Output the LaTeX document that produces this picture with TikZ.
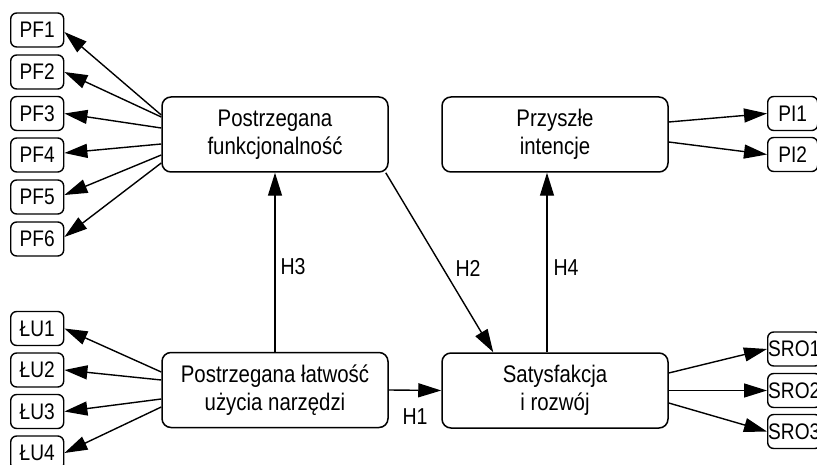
\documentclass[tikz,border=0pt]{standalone}
\usepackage{fontspec}
\setmainfont{Liberation Sans}[FakeStretch=0.85]
\usetikzlibrary{arrows.meta,calc}
\begin{document}
\begin{tikzpicture}[x=1pt,y=-1pt,
  construct/.style={draw, rounded corners=9pt, line width=1.5pt,
    minimum width=226pt, minimum height=75pt, align=center, inner sep=0pt,
    font=\fontsize{24}{27.5}\selectfont},
  item/.style={draw, rounded corners=6pt, line width=1.4pt,
    minimum width=53pt, minimum height=34pt, inner xsep=1.5pt, inner ysep=0pt,
    font=\fontsize{22.5}{25}\selectfont},
  link/.style={line width=1.4pt, -{Triangle[length=23pt,width=14pt]}},
  hyp/.style={font=\fontsize{23}{25}\selectfont, inner sep=0pt}
]
\useasboundingbox (0,0) rectangle (817,465);

% latent constructs
\node[construct] (funk) at (275,134.5) {Postrzegana\\funkcjonalność};
\node[construct] (latw) at (275,390) {Postrzegana łatwość\\użycia narzędzi};
\node[construct] (sat)  at (555,390.5) {Satysfakcja\\i rozwój};
\node[construct] (przy) at (555,134.5) {Przyszłe\\intencje};

% indicators
\foreach \i/\y in {1/30,2/72,3/113.5,4/155,5/197,6/239}
  \node[item, anchor=west] (pf\i) at (10,\y) {PF\i};
\foreach \i/\y in {1/328.5,2/370,3/411.5,4/453}
  \node[item, anchor=west] (lu\i) at (10,\y) {ŁU\i};
\foreach \i/\y in {1/113.5,2/154.5}
  \node[item, anchor=west, minimum width=50pt] (pi\i) at (767,\y) {PI\i};
\foreach \i/\y in {1/349,2/390.5,3/431.5}
  \node[item, anchor=west, inner xsep=0.5pt] (sro\i) at (767,\y) {SRO\i};

% loadings
\foreach \i/\d/\e in {1/-19.5/2,2/-17.5/0,3/-6.5/0,4/9.5/-2,5/20.5/-2,6/28.5/-2}
  \draw[link] ($(funk.west)+(0,\d)$) -- ($(pf\i.east)+(0,\e)$);
\foreach \i/\d in {1/-18,2/-10,3/9,4/17}
  \draw[link] ($(latw.west)+(0,\d)$) -- (lu\i.east);
\foreach \i/\d in {1/-12.5,2/7.5}
  \draw[link] ($(przy.east)+(0,\d)$) -- (pi\i.west);
\foreach \i/\d in {1/-17.5,2/0,3/12.5}
  \draw[link] ($(sat.east)+(0,\d)$) -- (sro\i.west);

% structural paths
\draw[link] (latw.east) -- (sat.west);
\draw[link] (latw.north) -- (funk.south);
\draw[link] ($(funk.south east)+(-3,0)$) -- ($(sat.north west)+(52,0)$);
\draw[link] ($(sat.north)+(-8,0)$) -- ($(przy.south)+(-8,0)$);

% hypothesis labels
\node[hyp] (h1) at (415,417) {H1};
\node[hyp] (h2) at (468,268) {H2};
\node[hyp] (h3) at (293,267) {H3};
\node[hyp] (h4) at (566,268) {H4};
\end{tikzpicture}
\end{document}
